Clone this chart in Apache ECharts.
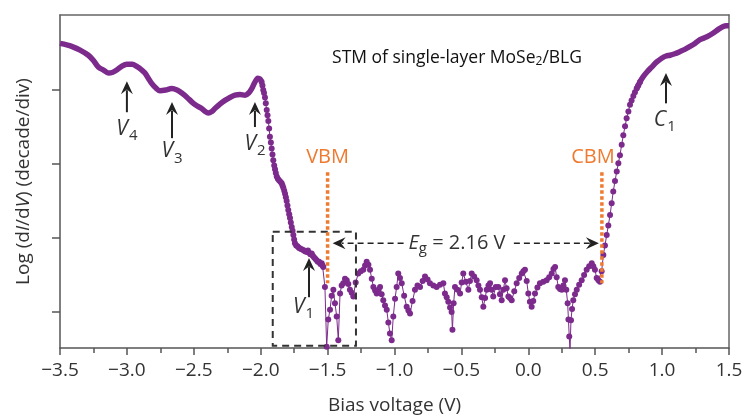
<!DOCTYPE html>
<html><head><meta charset="utf-8">
<script src="https://cdn.jsdelivr.net/npm/echarts@6/dist/echarts.min.js"></script>
<style>html,body{margin:0;padding:0;background:#fff}#c{width:743px;height:415px}</style>
</head><body><div id="c"></div>
<script>
// ---- data (bias V, log dI/dV in decades) ----
const leftV = [-3.5,-3.45,-3.413,-3.35,-3.288,-3.25,-3.214,-3.175,-3.139,-3.105,-3.076,-3.04,-3.001,-2.96,-2.927,-2.895,-2.865,-2.84,-2.815,-2.785,-2.753,-2.71,-2.665,-2.625,-2.59,-2.55,-2.516,-2.48,-2.441,-2.415,-2.392,-2.365,-2.342,-2.305,-2.267,-2.23,-2.192,-2.155,-2.117,-2.09,-2.067,-2.045,-2.022,-2.005,-1.993];
const leftY = [3.63,3.61,3.59,3.54,3.47,3.40,3.31,3.27,3.23,3.24,3.27,3.32,3.35,3.35,3.32,3.28,3.23,3.16,3.09,3.03,2.99,3.00,3.02,3.00,2.96,2.90,2.84,2.79,2.75,2.71,2.69,2.71,2.75,2.81,2.86,2.90,2.93,2.94,2.93,2.96,3.02,3.10,3.16,3.15,3.11];

const dotV = [-1.993,-1.987,-1.981,-1.975,-1.968,-1.962,-1.955,-1.949,-1.943,-1.937,-1.931,-1.924,-1.918,-1.912,-1.906,-1.899,-1.893,-1.887,-1.880,-1.872,-1.863,-1.853,-1.843,-1.837,-1.831,-1.824,-1.818,-1.812,-1.806,-1.800,-1.794,-1.787,-1.781,-1.775,-1.768,-1.762,-1.756,-1.750,-1.744,-1.735,-1.725,-1.715,-1.706,-1.694,-1.682,-1.670,-1.656,-1.647,-1.639,-1.629,-1.619,-1.611,-1.602,-1.592,-1.582,-1.573,-1.564,-1.554,-1.544,-1.538,-1.532,-1.520,-1.507,-1.495,-1.482,-1.470,-1.457,-1.445,-1.432,-1.420,-1.407,-1.395,-1.383,-1.370,-1.357,-1.345,-1.333,-1.320,-1.308,-1.290,-1.271,-1.252,-1.233,-1.220,-1.208,-1.195,-1.183,-1.170,-1.158,-1.145,-1.133,-1.120,-1.108,-1.096,-1.084,-1.071,-1.058,-1.046,-1.034,-1.021,-1.009,-0.996,-0.984,-0.972,-0.959,-0.946,-0.928,-0.909,-0.896,-0.884,-0.865,-0.847,-0.828,-0.809,-0.790,-0.772,-0.753,-0.735,-0.710,-0.685,-0.660,-0.635,-0.623,-0.610,-0.598,-0.585,-0.573,-0.567,-0.558,-0.548,-0.529,-0.510,-0.498,-0.486,-0.467,-0.448,-0.436,-0.423,-0.405,-0.386,-0.373,-0.361,-0.348,-0.336,-0.323,-0.311,-0.298,-0.286,-0.274,-0.262,-0.243,-0.224,-0.212,-0.199,-0.187,-0.174,-0.162,-0.149,-0.137,-0.124,-0.105,-0.087,-0.068,-0.049,-0.037,-0.025,-0.012,0.000,0.012,0.025,0.037,0.050,0.068,0.087,0.112,0.137,0.156,0.175,0.188,0.200,0.212,0.224,0.237,0.250,0.262,0.274,0.284,0.294,0.300,0.306,0.312,0.319,0.327,0.336,0.349,0.362,0.380,0.399,0.417,0.436,0.455,0.474,0.486,0.498,0.511,0.524,0.536,0.548,0.561,0.573,0.586,0.598,0.611,0.623,0.635,0.648,0.661,0.673,0.685,0.698,0.710,0.723,0.735,0.748,0.760,0.772,0.785,0.797,0.810,0.822,0.835];
const dotY = [3.11,3.06,3.00,2.96,2.90,2.82,2.73,2.66,2.58,2.48,2.37,2.29,2.21,2.13,2.05,1.98,1.93,1.88,1.83,1.80,1.78,1.76,1.74,1.71,1.68,1.64,1.60,1.55,1.50,1.44,1.38,1.32,1.27,1.21,1.15,1.10,1.04,0.98,0.93,0.90,0.89,0.87,0.86,0.85,0.84,0.82,0.81,0.83,0.80,0.78,0.79,0.76,0.74,0.72,0.70,0.68,0.68,0.65,0.66,0.63,0.61,0.34,-0.47,-0.10,0.03,0.22,0.30,0.12,-0.06,-0.38,0.25,0.36,0.39,0.45,0.43,0.38,0.30,0.26,0.21,0.40,0.52,0.55,0.57,0.63,0.68,0.64,0.57,0.45,0.34,0.29,0.25,0.30,0.34,0.24,0.16,0.09,0.03,-0.14,-0.29,-0.38,-0.06,0.18,0.34,0.52,0.46,0.39,0.22,0.07,0.02,-0.02,0.15,0.30,0.36,0.34,0.42,0.48,0.44,0.39,0.36,0.34,0.37,0.39,0.25,0.20,0.14,0.06,0.00,-0.24,0.12,0.34,0.30,0.25,0.40,0.52,0.41,0.30,0.42,0.52,0.48,0.43,0.36,0.30,0.20,0.07,0.19,0.30,0.36,0.39,0.30,0.21,0.34,0.34,0.24,0.16,0.30,0.43,0.32,0.21,0.19,0.16,0.28,0.39,0.46,0.52,0.55,0.57,0.42,0.25,0.14,0.07,0.15,0.25,0.33,0.39,0.41,0.43,0.47,0.52,0.58,0.61,0.47,0.34,0.31,0.30,0.36,0.43,0.30,0.12,-0.10,-0.33,-0.51,-0.11,0.04,0.16,0.24,0.30,0.37,0.43,0.50,0.57,0.62,0.66,0.62,0.57,0.46,0.43,0.41,0.55,0.77,0.90,1.04,1.17,1.31,1.47,1.63,1.77,1.90,2.01,2.12,2.26,2.39,2.51,2.62,2.71,2.80,2.86,2.92,2.97,3.02,3.06,3.11];

const rightV = [0.810,0.835,0.859,0.890,0.922,0.960,0.997,1.030,1.059,1.095,1.134,1.170,1.209,1.245,1.283,1.335,1.383,1.420,1.457,1.480,1.500];
const rightY = [3.02,3.11,3.18,3.25,3.31,3.38,3.43,3.46,3.47,3.49,3.52,3.55,3.59,3.63,3.68,3.72,3.77,3.82,3.86,3.87,3.87];

// tick values
const xTicks = [-3.5,-3.0,-2.5,-2.0,-1.5,-1.0,-0.5,0.0,0.5,1.0,1.5];
const yTicks = [0,1,2,3];

// annotations (data coords)
const arrowsV = [-3.0,-2.663,-2.043,-1.639,1.029];
const arrowHeadY = [3.12,2.84,2.84,0.73,3.23];
const arrowTailY = [2.70,2.35,2.50,0.20,2.82];
const arrowNames = ['V','V','V','V','C'];
const arrowSubs = ['4','3','2','1','1'];
const arrowLabelV = [-3.0,-2.663,-2.043,-1.68,1.02];
const arrowLabelY = [2.48,2.17,2.27,0.07,2.60];
const vbm = -1.5, cbm = 0.55;
const bandEdgeTop = 1.89, bandEdgeBottom = 0.39;
const boxV = [-1.91,-1.288], boxY = [1.085,-0.455];
const egTextV = -0.533, egY = 0.93;

const purple = '#7c2a8c', orange = '#ee7a2f';
const fontF = '"Open Sans", sans-serif';

const chart = echarts.init(document.getElementById('c'));
const zip = (a,b)=>a.map((v,i)=>[v,b[i]]);
chart.setOption({
  animation:false,
  grid:{left:60,right:14,top:15,bottom:67,containLabel:false,outerBoundsMode:'none'},
  xAxis:[{
    type:'value',min:-3.5,max:1.5,interval:0.5,
    axisLine:{onZero:false,lineStyle:{color:'#555',width:1.5}},
    axisTick:{length:7,lineStyle:{color:'#555',width:1.5},customValues:xTicks},
    minorTick:{show:true,splitNumber:2,length:5,lineStyle:{color:'#555',width:1.5}},
    splitLine:{show:false},
    axisLabel:{margin:13,fontSize:19,fontFamily:fontF,color:'#333',customValues:xTicks,
      formatter:v=>v.toFixed(1).replace('-','\u2212')},
    name:'Bias voltage (V)',nameLocation:'middle',nameGap:48,
    nameTextStyle:{fontSize:19,fontFamily:fontF,color:'#333'}
  },{
    type:'value',position:'top',min:-3.5,max:1.5,
    axisLine:{show:true,onZero:false,lineStyle:{color:'#666',width:1.5}},
    axisTick:{show:false},axisLabel:{show:false},splitLine:{show:false}
  }],
  yAxis:[{
    type:'value',min:-0.486,max:4.014,
    axisLine:{show:true,onZero:false,lineStyle:{color:'#555',width:1.5}},
    axisTick:{show:true,length:8,lineStyle:{color:'#555',width:1.5},customValues:yTicks},
    axisLabel:{show:false},splitLine:{show:false},
    name:'Log (d{i|I}/d{i|V}) (decade/div)',nameLocation:'middle',nameGap:27,nameRotate:90,
    nameTextStyle:{fontSize:19,fontFamily:fontF,color:'#333',
      rich:{i:{fontStyle:'italic',fontSize:19,fontFamily:fontF,color:'#333'}}}
  },{
    type:'value',position:'right',min:-0.486,max:4.014,
    axisLine:{show:true,onZero:false,lineStyle:{color:'#666',width:1.5}},
    axisTick:{show:false},axisLabel:{show:false},splitLine:{show:false}
  }],
  series:[
    {type:'line',data:zip(leftV,leftY),smooth:0.3,showSymbol:false,
     lineStyle:{color:purple,width:5.5},itemStyle:{color:purple}},
    {type:'line',data:zip(dotV,dotY),symbol:'circle',symbolSize:6,
     lineStyle:{color:purple,width:1},itemStyle:{color:purple}},
    {type:'line',data:zip(rightV,rightY),smooth:0.3,showSymbol:false,
     lineStyle:{color:purple,width:5.5},itemStyle:{color:purple}}
  ]
});

function P(v,y){return chart.convertToPixel({gridIndex:0},[v,y]);}
const g = [];
function arrow(x1,y1,x2,y2,opt){
  const dx=x2-x1, dy=y2-y1, L=Math.hypot(dx,dy), ux=dx/L, uy=dy/L;
  const hl=opt.hl||13, hw=opt.hw||6;
  const bx=x2-ux*hl, by=y2-uy*hl;
  g.push({type:'line',shape:{x1:x1,y1:y1,x2:x2-ux*hl*0.7,y2:y2-uy*hl*0.7},
    style:{stroke:opt.color,lineWidth:opt.lw||2,lineDash:opt.dash||null},z:100});
  g.push({type:'polygon',shape:{points:[[x2,y2],[bx-uy*hw,by+ux*hw],[x2-ux*hl*0.65,y2-uy*hl*0.65],[bx+uy*hw,by-ux*hw]]},
    style:{fill:opt.color},z:100});
}
for(let i=0;i<arrowsV.length;i++){
  const h=P(arrowsV[i],arrowHeadY[i]), t=P(arrowsV[i],arrowTailY[i]);
  arrow(t[0],t[1],h[0],h[1],{color:'#222',lw:2});
  const l=P(arrowLabelV[i],arrowLabelY[i]);
  g.push({type:'text',x:l[0],y:l[1],z:100,style:{
    text:'{v|'+arrowNames[i]+'}{s|'+arrowSubs[i]+'}',
    align:'center',verticalAlign:'middle',
    rich:{v:{fontSize:21,fontStyle:'italic',fontFamily:fontF,fill:'#333'},
          s:{fontSize:15,fontFamily:fontF,fill:'#333',padding:[14,0,0,1]}}}});
}
[[vbm,'VBM'],[cbm,'CBM']].forEach(([v,t])=>{
  const a=P(v,bandEdgeTop), b=P(v,bandEdgeBottom);
  g.push({type:'line',shape:{x1:a[0],y1:a[1],x2:b[0],y2:b[1]},
    style:{stroke:orange,lineWidth:3.5,lineDash:[3.5,2.5]},z:110});
  g.push({type:'text',x:a[0]+(t==='CBM'?-9:0),y:a[1]-5,z:110,style:{text:t,align:'center',verticalAlign:'bottom',
    fontSize:20,fontFamily:fontF,fill:orange}});
});
const b1=P(boxV[0],boxY[0]), b2=P(boxV[1],boxY[1]);
g.push({type:'rect',shape:{x:b1[0],y:b1[1],width:b2[0]-b1[0],height:b2[1]-b1[1]},
  style:{fill:null,stroke:'#333',lineWidth:2,lineDash:[7,5]},z:90});
const eL=P(vbm,egY), eR=P(cbm,egY), egMid=P(egTextV,egY);
arrow(eL[0]+76,eL[1],eL[0]+5,eL[1],{color:'#222',lw:1.5,dash:[6,4]});
arrow(eR[0]-88,eR[1],eR[0]-3,eR[1],{color:'#222',lw:1.5,dash:[6,4]});
g.push({type:'text',x:egMid[0],y:egMid[1],z:100,style:{
  text:'{e|E}{s|g}{t| = 2.16 V}',align:'center',verticalAlign:'middle',
  rich:{e:{fontSize:20,fontStyle:'italic',fontFamily:fontF,fill:'#333'},
        s:{fontSize:15,fontFamily:fontF,fill:'#333',padding:[12,0,0,0]},
        t:{fontSize:20,fontFamily:fontF,fill:'#333'}}}});
g.push({type:'text',x:457,y:58,z:100,style:{
  text:'{a|STM of single-layer MoSe}{s|2}{a|/BLG}',align:'center',verticalAlign:'middle',
  rich:{a:{fontSize:17.5,fontFamily:fontF,fill:'#111'},s:{fontSize:12,fontFamily:fontF,fill:'#111',padding:[8,0,0,0]}}}});
chart.setOption({graphic:g});
</script></body></html>
